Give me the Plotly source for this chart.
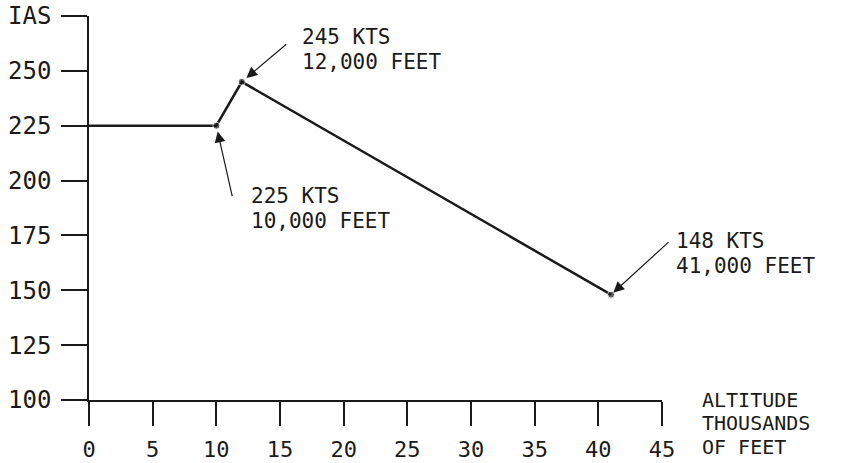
import plotly.graph_objects as go

# ---- data ----
altitude_kft = [0, 10, 12, 41]
ias_kts = [225, 225, 245, 148]
x_ticks = [0, 5, 10, 15, 20, 25, 30, 35, 40, 45]
y_ticks = [100, 125, 150, 175, 200, 225, 250, 275]
y_tick_text = ["100", "125", "150", "175", "200", "225", "250", "IAS"]
callout_idx = [2, 1, 3]
callout_text = [["245 KTS", "12,000 FEET"], ["225 KTS", "10,000 FEET"], ["148 KTS", "41,000 FEET"]]
x_title = ["ALTITUDE", "THOUSANDS", "OF FEET"]

W, H = 845, 463
L, T = 89, 16
R, B = W - 662, H - 400
PW, PH = W - L - R, H - T - B
INK = "#1a1a1a"
FONT = "DejaVu Sans Mono"


def px(xp):
    return (xp - L) / PW


def py(yp):
    return (H - B - yp) / PH


def block(lines, size):
    return "<br>".join(f'<span style="font-size:{size}px">{s}</span>' for s in lines)


fig = go.Figure()
fig.add_trace(go.Scatter(
    x=altitude_kft, y=ias_kts, mode="lines+markers",
    line=dict(color=INK, width=2.5),
    marker=dict(color=INK, size=[0, 7, 7, 7]),
    cliponaxis=False, showlegend=False, hoverinfo="skip",
))

annotations = []
# arrows (tail offsets in pixels)
arrow_offsets = [(45, -38), (16, 71), (58, -53)]
arrow_standoff = [6, 6, 3]
text_pos = [(300, 49), (249, 208), (674, 253)]
for k, i in enumerate(callout_idx):
    ax, ay = arrow_offsets[k]
    annotations.append(dict(
        x=altitude_kft[i], y=ias_kts[i], xref="x", yref="y",
        text="", showarrow=True, ax=ax, ay=ay, borderpad=0,
        font=dict(size=1),
        arrowhead=2, arrowsize=1.8, arrowwidth=1.2, arrowcolor=INK,
        standoff=arrow_standoff[k],
    ))
    lx, cy = text_pos[k]
    annotations.append(dict(
        x=px(lx), y=py(cy), xref="paper", yref="paper",
        text=block(callout_text[k], 21), showarrow=False,
        xanchor="left", yanchor="middle", align="left",
        font=dict(family=FONT, size=19, color=INK),
    ))

annotations.append(dict(
    x=px(700), y=py(423), xref="paper", yref="paper",
    text=block(x_title, 20), showarrow=False,
    xanchor="left", yanchor="middle", align="left",
    font=dict(family=FONT, size=18, color=INK),
))

fig.update_layout(
    width=W, height=H,
    margin=dict(l=L, r=R, t=T, b=B, pad=0),
    paper_bgcolor="white", plot_bgcolor="white",
    annotations=annotations,
    xaxis=dict(
        range=[0, 45], tickvals=x_ticks, ticks="outside", ticklen=24,
        tickwidth=1.5, tickcolor=INK, showline=True, linecolor=INK, linewidth=1.5,
        showgrid=False, zeroline=False, ticklabelstandoff=5, automargin=False,
        ticklabeloverflow="allow",
        tickfont=dict(family=FONT, size=22, color=INK),
    ),
    yaxis=dict(
        range=[100, 275], tickvals=y_ticks, ticktext=y_tick_text, ticks="outside",
        ticklen=26, tickwidth=1.5, tickcolor=INK, showline=True, linecolor=INK,
        linewidth=1.5, showgrid=False, zeroline=False, ticklabelstandoff=5,
        automargin=False, ticklabeloverflow="allow",
        tickfont=dict(family=FONT, size=24, color=INK),
    ),
)

fig.write_html(
    "out.html",
    config={"displayModeBar": False},
    post_script="document.body.style.margin='0';document.body.style.overflow='hidden';",
)
